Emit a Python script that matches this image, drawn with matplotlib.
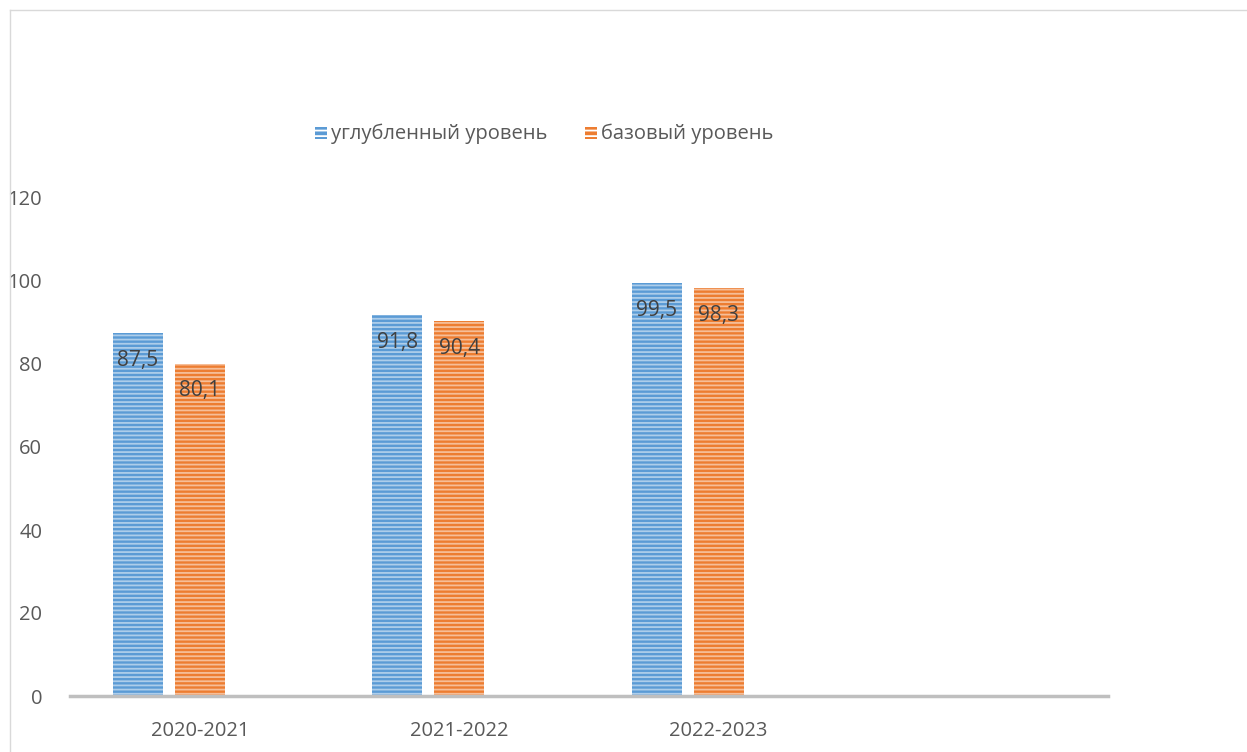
import numpy as np
import matplotlib.pyplot as plt
from matplotlib.patches import Rectangle
from matplotlib.lines import Line2D

years = ["2020-2021", "2021-2022", "2022-2023", ""]
deep = [87.5, 91.8, 99.5]
base = [80.1, 90.4, 98.3]
series_names = ["углубленный уровень", "базовый уровень"]

plt.rcParams['font.family'] = ['Open Sans', 'DejaVu Sans']
plt.rcParams['hatch.linewidth'] = 1.3
text_col = "#595959"
blue = "#5B9BD5"
orange = "#ED7D31"

fig = plt.figure(figsize=(12.47, 7.52), dpi=100)
ax = fig.add_axes([70 / 1247, 1 - 696 / 752, 1038 / 1247, 498 / 752])

x = np.arange(len(years))
w = 0.193
gap = 0.046
for vals, col, off in [(deep, blue, -(w + gap)), (base, orange, 0.0)]:
    xs = x[:len(vals)] + off
    ax.bar(xs, vals, w, color=col, edgecolor="none", linewidth=0)
    ax.bar(xs, vals, w, color="none", edgecolor="white", hatch="----",
           linewidth=0, alpha=0.5)
    for xi, v in zip(xs, vals):
        ax.text(xi, v - 6.6, f"{v:.1f}".replace(".", ","), ha="center",
                va="center", fontsize=15, color="#404040")

ax.set_xlim(-0.5, 3.5)
ax.set_ylim(0, 120)
ax.set_yticks(np.arange(0, 121, 20))
ax.set_xticks(x)
ax.set_xticklabels(years)
ax.tick_params(length=0, labelsize=14.5, colors=text_col)
ax.tick_params(axis="y", pad=20)
ax.tick_params(axis="x", pad=18)
for s in ["left", "right", "top"]:
    ax.spines[s].set_visible(False)
ax.spines["bottom"].set_color("#BFBFBF")
ax.spines["bottom"].set_linewidth(2.5)

# legend
for (px, name, col) in [(315, series_names[0], blue), (585, series_names[1], orange)]:
    fig.patches.append(Rectangle((px / 1247, 1 - 139 / 752), 12 / 1247, 12 / 752,
                                 transform=fig.transFigure, facecolor=col,
                                 edgecolor="white", hatch="---", linewidth=0))
    fig.text((px + 16) / 1247, 1 - 134 / 752, name, fontsize=14.5,
             color=text_col, va="center", ha="left")

# chart frame
fig.add_artist(Line2D([10 / 1247, 10 / 1247], [0, 1 - 10 / 752],
                      transform=fig.transFigure, color="#D9D9D9", lw=1))
fig.add_artist(Line2D([10 / 1247, 1], [1 - 10 / 752, 1 - 10 / 752],
                      transform=fig.transFigure, color="#D9D9D9", lw=1))

fig.savefig("out.png", dpi=100)
